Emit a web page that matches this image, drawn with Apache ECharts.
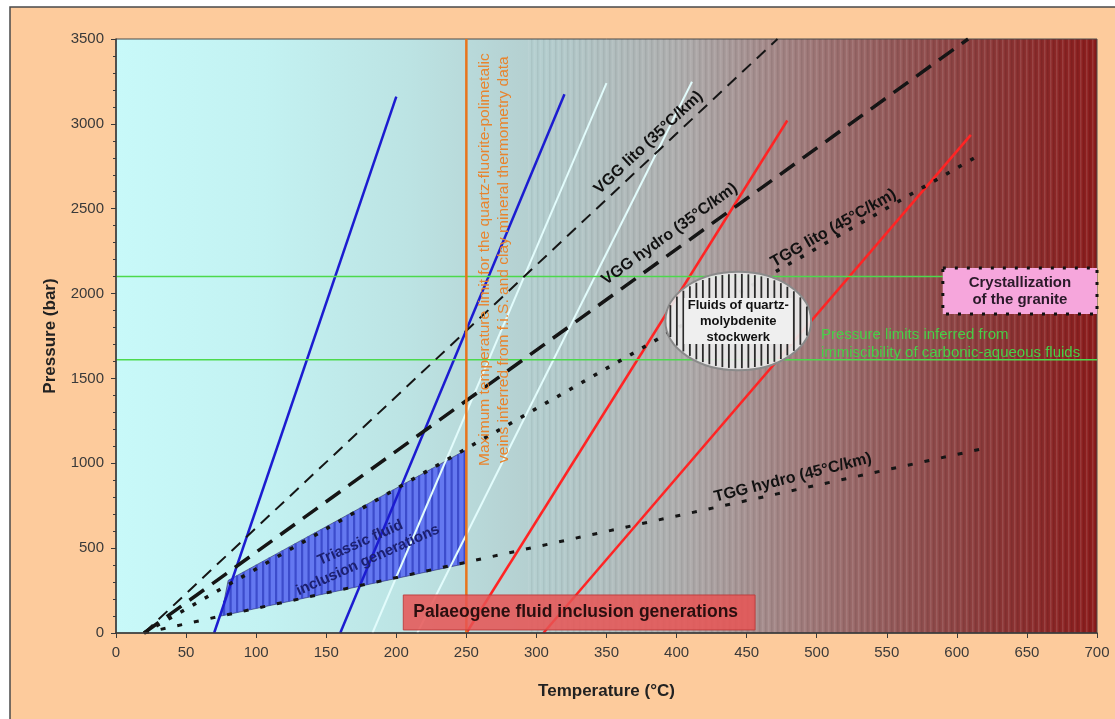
<!DOCTYPE html>
<html><head><meta charset="utf-8">
<script src="https://cdn.jsdelivr.net/npm/echarts@6/dist/echarts.min.js"></script>
<style>html,body{margin:0;padding:0;background:#fff}#c{width:1115px;height:719px}</style>
</head><body><div id="c"></div>
<script>
// ---------- data ----------
const xTicks = [0,50,100,150,200,250,300,350,400,450,500,550,600,650,700];
const yTicks = [0,500,1000,1500,2000,2500,3000,3500];
// isochores (Temperature °C, Pressure bar)
const blueIso1  = [[70,0],[200,3160]];
const blueIso2  = [[160,0],[320,3175]];
const whiteIso1 = [[183,0],[350,3240]];
const whiteIso2 = [[215,0],[411,3248]];
const redIso1   = [[250,0],[479,3020]];
const redIso2   = [[305,0],[610,2935]];
// geothermal gradients
const vggLito  = [[20,0],[472,3500]];
const vggHydro = [[20,0],[608,3500]];
const tggLito  = [[20,0],[617,2820]];
const tggHydro = [[20,0],[618,1085]];
// limits
const tempLimit = [[250,0],[250,3500]];
const pUpper = [[0,2100],[700,2100]];
const pLower = [[0,1610],[700,1610]];
// Triassic field
const triassic = [[75,100],[80,310],[250,1080],[250,410]];

const FONT = '"Liberation Sans", Arial, sans-serif';
const chart = echarts.init(document.getElementById('c'));

function ln(data, color, width, type, z){
  return {type:'line', data, symbol:'none', silent:true, animation:false, z:z||3,
    lineStyle:{color, width, type:type||'solid', cap:'butt'}};
}

chart.setOption({
  backgroundColor:'#ffffff',
  animation:false,
  grid:{left:116, right:18, top:39, bottom:86, show:true, borderColor:'#4a4a4a', borderWidth:1, backgroundColor:'transparent'},
  xAxis:{type:'value', min:xTicks[0], max:xTicks[xTicks.length-1], interval:50, z:10,
    axisLine:{show:true, onZero:false, lineStyle:{color:'#3a3a3a', width:1.5}},
    axisTick:{show:true, length:5, lineStyle:{color:'#3a3a3a'}},
    axisLabel:{color:'#3a3a3a', fontSize:15, margin:12, fontFamily:FONT, formatter:v=>String(v)},
    splitLine:{show:false},
    name:'Temperature (°C)', nameLocation:'middle', nameGap:50,
    nameTextStyle:{fontWeight:'bold', fontSize:17, color:'#222', fontFamily:FONT}},
  yAxis:{type:'value', min:yTicks[0], max:yTicks[yTicks.length-1], interval:500, z:10,
    axisLine:{show:true, onZero:false, lineStyle:{color:'#3a3a3a', width:1.5}},
    axisTick:{show:true, length:5, lineStyle:{color:'#3a3a3a'}},
    minorTick:{show:true, splitNumber:5, length:3, lineStyle:{color:'#3a3a3a'}},
    axisLabel:{color:'#3a3a3a', fontSize:15, margin:12, fontFamily:FONT, formatter:v=>String(v)},
    splitLine:{show:false},
    name:'Pressure (bar)', nameLocation:'middle', nameGap:57,
    nameTextStyle:{fontWeight:'bold', fontSize:17, color:'#222', fontFamily:FONT}},
  series:[
    {type:'custom', silent:true, z:2, data:[0],
      renderItem:function(params, api){
        const pts = triassic.map(d=>api.coord(d));
        const children = [{type:'polygon', shape:{points:pts}, style:{fill:'#6478f0', stroke:'rgba(20,20,60,0.5)', lineWidth:1}}];
        const xs = pts.map(p=>p[0]);
        const x0 = Math.min.apply(null,xs), x1 = Math.max.apply(null,xs);
        for(let x=x0+3; x<x1-1; x+=6.5){
          const ys=[];
          for(let i=0;i<pts.length;i++){
            const a=pts[i], b=pts[(i+1)%pts.length];
            if((x-a[0])*(x-b[0])<=0 && a[0]!==b[0]){
              ys.push(a[1]+(b[1]-a[1])*(x-a[0])/(b[0]-a[0]));
            }
          }
          if(ys.length>=2){
            children.push({type:'line', shape:{x1:x,y1:Math.min.apply(null,ys),x2:x,y2:Math.max.apply(null,ys)}, style:{stroke:'#3c4ccc', lineWidth:2.2}});
          }
        }
        return {type:'group', children};
      }},
    ln(whiteIso1,'#e2fcfc',2),
    ln(whiteIso2,'#e2fcfc',2),
    ln(blueIso1,'#1c1cd0',2.5),
    ln(blueIso2,'#1c1cd0',2.5),
    ln(redIso1,'#ff2424',2.5),
    ln(redIso2,'#ff2424',2.5),
    ln(pUpper,'#4cd94c',1.5),
    ln(pLower,'#4cd94c',1.5),
    ln(vggLito,'#151515',2,[12,8],4),
    ln(vggHydro,'#151515',3.5,[18,10],4),
    ln(tggLito,'#151515',3.5,[4,10],4),
    ln(tggHydro,'#151515',3,[5,12],4),
    ln(tempLimit,'#e8741c',2.5,'solid',5)
  ]
});

const P = (t,p) => chart.convertToPixel({gridIndex:0},[t,p]);
const tl = P(xTicks[0], yTicks[yTicks.length-1]);
const br = P(xTicks[xTicks.length-1], yTicks[0]);
const gw = br[0]-tl[0], gh = br[1]-tl[1];

// background of the plot area (gradient with banding)
function makeBg(w,h){
  const c=document.createElement('canvas'); c.width=Math.round(w); c.height=Math.round(h);
  const g=c.getContext('2d');
  const gr=g.createLinearGradient(0,0,w,0);
  [[0,'#c8f9f9'],[0.15,'#c3f2f2'],[0.3,'#bce3e3'],[0.45,'#b3cbcc'],[0.58,'#aeacac'],
   [0.7,'#a07b7b'],[0.8,'#935656'],[0.9,'#8b3535'],[1,'#8c1c1c']].forEach(s=>gr.addColorStop(s[0],s[1]));
  g.fillStyle=gr; g.fillRect(0,0,w,h);
  for(let x=Math.round(w*0.42); x<w; x+=6){
    const a = 0.04 + 0.08*(x/w);
    g.fillStyle='rgba(255,255,255,'+a.toFixed(3)+')'; g.fillRect(x,0,1.5,h);
    g.fillStyle='rgba(0,0,0,'+(a*0.7).toFixed(3)+')'; g.fillRect(x+3,0,1.5,h);
  }
  return c;
}

function angleOf(line){
  const a=P(line[0][0],line[0][1]), b=P(line[1][0],line[1][1]);
  return Math.atan2(a[1]-b[1], b[0]-a[0]);
}
function txt(pos, text, font, fill, rot, lh){
  return {type:'text', x:pos[0], y:pos[1], rotation:rot||0, z:20, silent:true,
    style:{text, font, fill, textAlign:'center', textVerticalAlign:'middle', align:'center', verticalAlign:'middle', lineHeight:lh||undefined}};
}

const G = [];
G.push({type:'rect', z:-20, silent:true, shape:{x:10,y:7,width:1200,height:800}, style:{fill:'#fdcb9c', stroke:'#4a4a4a', lineWidth:1.5}});
G.push({type:'image', z:-10, silent:true, x:tl[0], y:tl[1], style:{image:makeBg(gw,gh), width:gw, height:gh}});

// line labels
const bold16 = 'bold 16px ' + FONT;
G.push(txt(P(380,2890),'VGG lito (35°C/km)',bold16,'#111',angleOf(vggLito)));
G.push(txt(P(395,2350),'VGG hydro (35°C/km)',bold16,'#111',angleOf(vggHydro)));
G.push(txt(P(512,2385),'TGG lito (45°C/km)',bold16,'#111',angleOf(tggLito)));
G.push(txt(P(483,915),'TGG hydro (45°C/km)',bold16,'#111',angleOf(tggHydro)+0.03));
G.push(txt(P(177,480),'Triassic fluid\ninclusion generations','bold 15px '+FONT,'#1c2070',24*Math.PI/180,19));

// temperature limit note (vertical)
G.push(txt(P(270,2200),'Maximum temperature limit for the quartz-fluorite-polimetalic\nveins inferred from f.i.S. and clay mineral thermometry data','15.5px '+FONT,'#e8842e',Math.PI/2,19));

// pressure note (green)
const gp = P(503,1706);
G.push({type:'text', x:gp[0], y:gp[1], z:20, silent:true, style:{text:'Pressure limits inferred from\nimmiscibility of carbonic-aqueous fluids', font:'15px '+FONT, fill:'#46d046', textAlign:'left', align:'left', textVerticalAlign:'middle', verticalAlign:'middle', lineHeight:18}});

// Crystallization box
const c1 = P(590,2150), c2 = P(700,1880);
G.push({type:'rect', z:18, silent:true, shape:{x:c1[0],y:c1[1],width:c2[0]-c1[0],height:c2[1]-c1[1]}, style:{fill:'#f6a6dc', stroke:'#111', lineWidth:3, lineDash:[3,9]}});
G.push(txt([(c1[0]+c2[0])/2,(c1[1]+c2[1])/2],'Crystallization\nof the granite','bold 15px '+FONT,'#2a1a2a',0,17));

// Palaeogene box
const p1 = P(205,224), p2 = P(456,18);
G.push({type:'rect', z:18, silent:true, shape:{x:p1[0],y:p1[1],width:p2[0]-p1[0],height:p2[1]-p1[1]}, style:{fill:'rgba(232,84,84,0.85)', stroke:'rgba(190,60,60,0.9)', lineWidth:1}});
G.push({type:'text', x:p1[0]+10, y:(p1[1]+p2[1])/2, z:20, silent:true, style:{text:'Palaeogene fluid inclusion generations', font:'bold 17.5px '+FONT, fill:'#2a0f0f', textAlign:'left', align:'left', textVerticalAlign:'middle', verticalAlign:'middle'}});

// Ellipse (quartz-molybdenite stockwerk)
const eL = P(392,1548), eR = P(496,2128);
const ecx=(eL[0]+eR[0])/2, ecy=(eL[1]+eR[1])/2, erx=(eR[0]-eL[0])/2, ery=(eL[1]-eR[1])/2;
G.push({type:'ellipse', z:15, silent:true, shape:{cx:ecx,cy:ecy,rx:erx,ry:ery}, style:{fill:'rgba(236,236,236,0.92)', stroke:'#8a8a8a', lineWidth:2}});
for(let dx=-erx+5; dx<erx-3; dx+=6.5){
  const hh = ery*Math.sqrt(1-(dx/erx)*(dx/erx)) - 2;
  G.push({type:'line', z:16, silent:true, shape:{x1:ecx+dx,y1:ecy-hh,x2:ecx+dx,y2:ecy+hh}, style:{stroke:'#2a2a2a', lineWidth:1.8}});
}
G.push({type:'rect', z:17, silent:true, shape:{x:ecx-54,y:ecy-23,width:108,height:46}, style:{fill:'#efefef'}});
G.push(txt([ecx,ecy],'Fluids of quartz-\nmolybdenite\nstockwerk','bold 13px '+FONT,'#111',0,16));

chart.setOption({graphic:{elements:G}});
</script></body></html>
